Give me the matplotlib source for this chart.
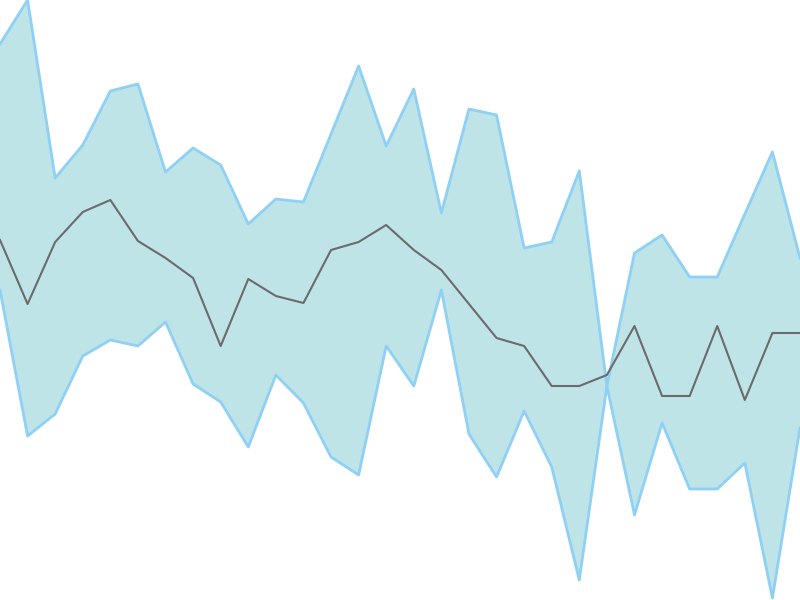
import numpy as np
import matplotlib.pyplot as plt

# values (0 = bottom, 600 = top)
upper = np.array([556, 600, 422, 455, 509, 516, 428, 452, 435, 376,
                  401, 398, 466, 534, 454, 511, 387, 491, 485, 352,
                  358, 429, 214, 347, 365, 323, 323, 386, 448, 342])
lower = np.array([310, 164, 186, 244, 260, 254, 278, 216, 198, 153,
                  225, 197, 143, 125, 254, 214, 310, 166, 123, 189,
                  133, 20, 214, 85, 177, 111, 111, 137, 2, 172])
mean = np.array([360, 296, 358, 388, 400, 359, 342, 322, 254, 321,
                 304, 297, 350, 358, 375, 350, 330, 296, 262, 254,
                 214, 214, 225, 274, 204, 204, 274, 200, 267, 267])
x = np.arange(len(mean))

fig = plt.figure(figsize=(8, 6), dpi=100)
ax = fig.add_axes([0, 0, 1, 1])
ax.fill_between(x, lower, upper, color='#bee4e8', lw=0)
ax.plot(x, upper, color='#8fd0f5', lw=2)
ax.plot(x, lower, color='#8fd0f5', lw=2)
ax.plot(x, mean, color='#6b6b6b', lw=1.5)
ax.set_xlim(0, len(x) - 1)
ax.set_ylim(0, 600)
ax.axis('off')
fig.savefig('out.png')
